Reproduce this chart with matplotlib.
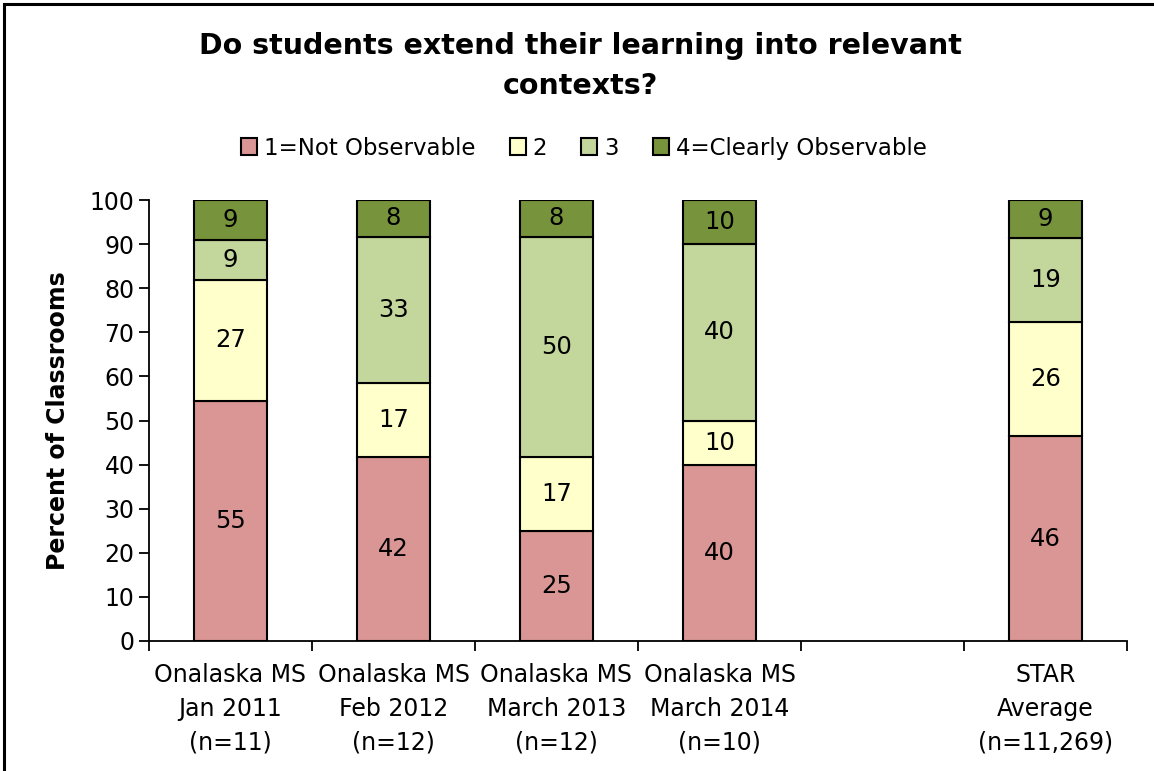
import numpy as np
import matplotlib
matplotlib.use("Agg")
import matplotlib.pyplot as plt
from matplotlib.patches import Rectangle

# data (percent of classrooms)
categories = ["Onalaska MS\nJan 2011\n(n=11)", "Onalaska MS\nFeb 2012\n(n=12)",
              "Onalaska MS\nMarch 2013\n(n=12)", "Onalaska MS\nMarch 2014\n(n=10)",
              "", "STAR\nAverage\n(n=11,269)"]
not_obs = [54.5, 41.7, 25.0, 40.0, np.nan, 46.4]
level2 = [27.3, 16.7, 16.7, 10.0, np.nan, 25.9]
level3 = [9.1, 33.3, 50.0, 40.0, np.nan, 19.0]
clearly = [9.1, 8.3, 8.3, 10.0, np.nan, 8.7]
series_names = ["1=Not Observable", "2", "3", "4=Clearly Observable"]
colors = ["#D99694", "#FFFFCC", "#C3D69B", "#77933C"]

plt.rcParams['font.family'] = ['DejaVu Sans']

fig = plt.figure(figsize=(11.54, 7.71), dpi=100)
ax = fig.add_axes([149/1154, 130/771, (1127-149)/1154, 441/771])

x = np.arange(len(categories))
bottom = np.zeros(len(categories))
handles = []
for vals, name, col in zip([not_obs, level2, level3, clearly], series_names, colors):
    v = np.array(vals, dtype=float)
    ok = ~np.isnan(v)
    bars = ax.bar(x[ok], v[ok], 0.45, bottom=bottom[ok], color=col,
                  edgecolor="black", linewidth=1.5, label=name)
    handles.append(bars)
    for xi, vi, bi in zip(x[ok], v[ok], bottom[ok]):
        # excel style rounding (half up)
        ax.text(xi, bi + vi/2, str(int(vi + 0.5)), ha="center", va="center", fontsize=17.5)
    bottom[ok] += v[ok]

ax.set_xlim(-0.5, len(categories) - 0.5)
ax.set_ylim(0, 100)
ax.set_yticks(np.arange(0, 101, 10))
ax.tick_params(axis="y", labelsize=17, length=7, width=1.3, direction="out")
ax.set_xticks(x)
ax.set_xticklabels(categories, fontsize=17, linespacing=1.5)
ax.set_xticks(np.arange(-0.5, len(categories), 1), minor=True)
ax.tick_params(axis="x", which="major", length=0, pad=16)
ax.tick_params(axis="x", which="minor", length=7, width=1.3, direction="out")
for s in ["top", "right"]:
    ax.spines[s].set_visible(False)
for s in ["left", "bottom"]:
    ax.spines[s].set_linewidth(1.3)
ax.set_ylabel("Percent of Classrooms", fontsize=17, fontweight="bold", labelpad=14)

fig.text(0.503, 0.958, "Do students extend their learning into relevant\ncontexts?",
         ha="center", va="top", fontsize=20.5, fontweight="bold", linespacing=1.55)
fig.legend(handles=handles, loc="center", bbox_to_anchor=(0.506, 0.808), ncol=4,
           frameon=False, fontsize=16.5, handlelength=0.7, handleheight=0.7,
           handletextpad=0.3, columnspacing=1.5)

# outer chart border
fig.patches.append(Rectangle((4/1154, -0.05), 1.2, 1.05 - 4/771, transform=fig.transFigure,
                             fill=False, edgecolor="black", linewidth=2.2))

fig.savefig("out.png", dpi=100)
